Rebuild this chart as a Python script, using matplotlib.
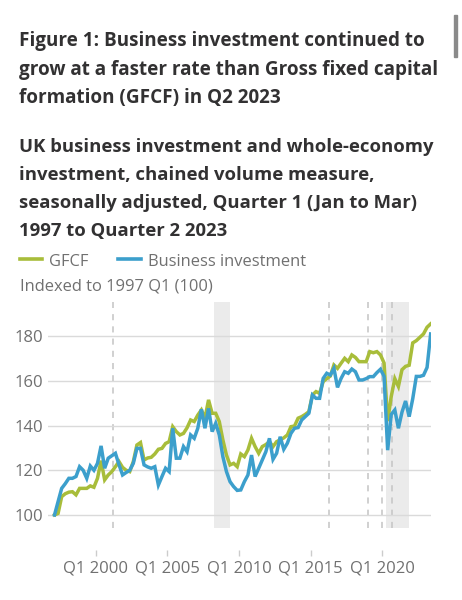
import matplotlib
matplotlib.use("Agg")
import matplotlib.pyplot as plt
from matplotlib.lines import Line2D
from matplotlib.patches import Rectangle

# quarters from 1997 Q1 to 2023 Q2, indexed 1997 Q1 = 100
gfcf = [100, 100.7, 108.2, 109.5, 110.2, 110.4, 109, 111.9, 111.9, 111.9,
        113, 112.4, 116.4, 124.3, 115.7, 117.9, 119.4, 121.6, 123.9, 121.3,
        120, 119.4, 123.9, 131.3, 132.4, 124.6, 125.5, 125.8, 127.3, 129.4,
        129.8, 132, 132.8, 139.5, 137.3, 135.8, 136.5, 139, 142.5, 141.8,
        144.7, 147, 143.3, 151.5, 145.5, 145.5, 141.8, 133.6, 126.8, 122.4,
        123.1, 121.6, 127.3, 126.1, 129.1, 134.3, 130.6, 127.6, 130.6, 131.5,
        132.8, 130.6, 132.8, 133.6, 134.5, 135.8, 139.5, 139.8, 143.3, 144,
        145, 146.2, 153.7, 155.2, 154.4, 159.7, 161, 162.2, 167.1, 165.6,
        167.9, 170.1, 168.6, 171.6, 170.5, 168.6, 168.6, 168.6, 173.1, 172.6,
        173.1, 171.6, 168, 142, 153, 161, 157.5, 165, 166.5, 167,
        177, 178, 179.5, 181, 184, 185.5]
business = [100, 106, 111.9, 114, 116.4, 116.4, 117.2, 121.6, 120, 116.4,
            121.9, 120, 123.1, 130.9, 120.9, 125.4, 126.5, 127.6, 122.5, 117.9,
            119, 120, 123.1, 129.8, 129.8, 122.4, 121.5, 120.9, 121.6, 113.4,
            117.2, 120.9, 119.4, 138.8, 125.4, 125.4, 130.6, 128.3, 135.8, 134.3,
            138.8, 147.3, 138.8, 147.7, 137.3, 141, 135.8, 126.1, 119.4, 114.9,
            112.7, 111, 111.2, 114.9, 117.9, 126.8, 117.2, 120.9, 124.6, 128.3,
            134.3, 124.9, 127.6, 135, 129.4, 132.1, 136.5, 138.8, 139.1, 142.5,
            144, 145.5, 153.7, 152.2, 152.2, 161.1, 163.4, 162.6, 165.6, 157.1,
            161.1, 164.1, 163.4, 165.3, 164.1, 160.4, 160.4, 161, 161.9, 161.9,
            163.7, 165.2, 162, 129, 145, 147, 138.8, 146, 151, 144,
            152, 162, 162, 162.5, 166, 181]
years = [1997.125 + i * 0.25 for i in range(len(gfcf))]

event_lines = [2001.23, 2016.28, 2018.98, 2019.96, 2020.66]
shaded = [(2008.23, 2009.37), (2020.26, 2021.88)]
xticks = [2000, 2005, 2010, 2015, 2020]
xtick_labels = ["Q1 2000", "Q1 2005", "Q1 2010", "Q1 2015", "Q1 2020"]
yticks = [100, 120, 140, 160, 180]

GREEN = "#a8bd3a"
BLUE = "#3c9fcc"
GREY = "#707070"
DARK = "#323132"

W, H = 462, 600
fig = plt.figure(figsize=(W / 100, H / 100), dpi=100)
plt.rcParams['font.family'] = ['Open Sans', 'DejaVu Sans']

def fx(px):
    return px / W

def fy(py):
    return 1 - py / H

title = ["Figure 1: Business investment continued to",
         "grow at a faster rate than Gross fixed capital",
         "formation (GFCF) in Q2 2023"]
subtitle = ["UK business investment and whole-economy",
            "investment, chained volume measure,",
            "seasonally adjusted, Quarter 1 (Jan to Mar)",
            "1997 to Quarter 2 2023"]
for i, t in enumerate(title):
    fig.text(fx(19), fy(46 + i * 28.5), t, fontsize=13.55, fontweight="bold",
             color=DARK, va="baseline")
for i, t in enumerate(subtitle):
    fig.text(fx(19), fy(152 + i * 28), t, fontsize=13.3, fontweight="bold",
             color=DARK, va="baseline")

# scrollbar
fig.patches.append(Rectangle((fx(454), fy(57)), fx(3), 42 / H, color="#8a8a8a",
                             transform=fig.transFigure))

# legend
fig.lines.append(Line2D([fx(20), fx(42)], [fy(259), fy(259)], color=GREEN, lw=2.6,
                        transform=fig.transFigure))
fig.text(fx(49), fy(266.5), "GFCF", fontsize=11.9, color=GREY, va="baseline")
fig.lines.append(Line2D([fx(118), fx(141)], [fy(259), fy(259)], color=BLUE, lw=2.6,
                        transform=fig.transFigure))
fig.text(fx(148), fy(266.5), "Business investment", fontsize=11.9, color=GREY,
         va="baseline")
fig.text(fx(19.5), fy(290), "Indexed to 1997 Q1 (100)", fontsize=11.9, color=GREY,
         va="baseline")

ax = fig.add_axes([fx(47.7), fy(527.7), fx(431) - fx(47.7), (527.7 - 302) / H])
for a, b in shaded:
    ax.axvspan(a, b, color="#ebebeb", lw=0, zorder=0)
for x in event_lines:
    ax.axvline(x, color="#c4c4c4", lw=1.1, ls=(0, (4, 4)), zorder=1)
for y in yticks:
    ax.axhline(y, color="#dadada", lw=1, zorder=1)

ax.plot(years, gfcf, color=GREEN, lw=2.5, zorder=3, solid_joinstyle="miter")
ax.plot(years, business, color=BLUE, lw=2.5, zorder=4, solid_joinstyle="miter")

ax.set_xlim(1996.65, 2023.40)
ax.set_ylim(94.3, 195.3)
for s in ax.spines.values():
    s.set_visible(False)
ax.spines["bottom"].set_position(("outward", 16))
ax.set_xticks(xticks)
ax.set_xticklabels(xtick_labels)
ax.set_yticks(yticks)
ax.tick_params(axis="x", length=4.3, width=1, color="#cccccc", pad=3.5,
               labelsize=12, labelcolor=GREY)
ax.tick_params(axis="y", length=0, pad=3.5, labelsize=12, labelcolor=GREY)

fig.savefig("out.png", dpi=100)
